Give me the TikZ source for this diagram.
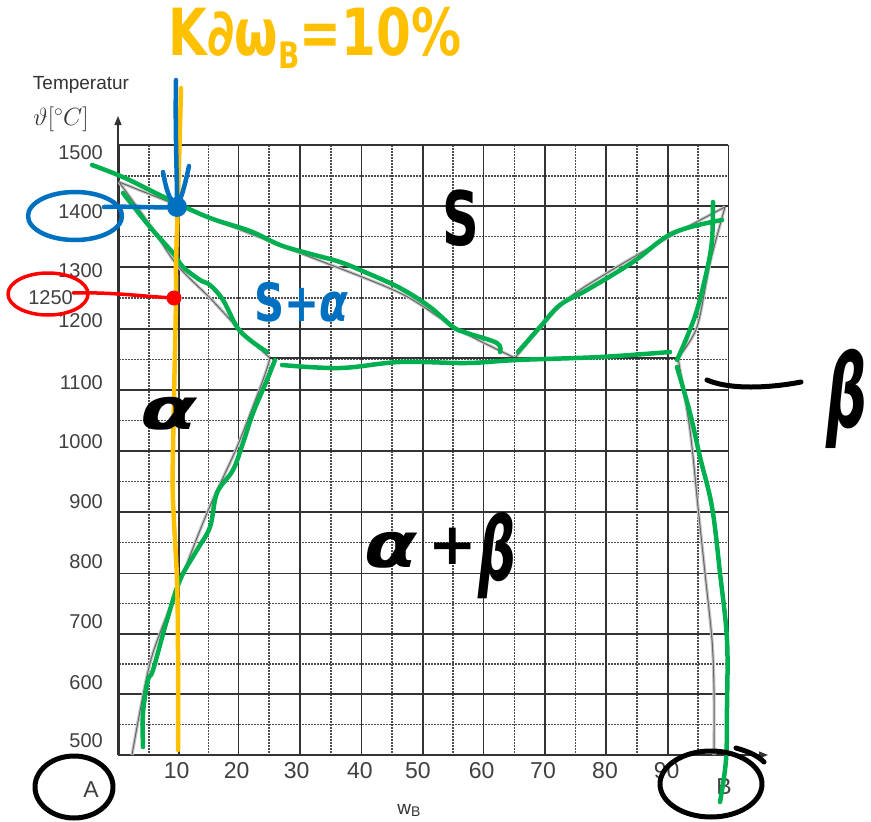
\documentclass[tikz,border=0pt]{standalone}
\usepackage{fontspec}
\setmainfont{Liberation Sans}
\newfontfamily\handfont{DejaVu Sans}
\usepackage{graphicx}
\usetikzlibrary{arrows.meta}
\definecolor{hgreen}{RGB}{0,176,80}
\definecolor{horange}{RGB}{255,192,0}
\definecolor{hblue}{RGB}{0,112,192}
\definecolor{hred}{RGB}{255,0,0}
\begin{document}
\begin{tikzpicture}[x=1pt,y=-1pt,
  solidgrid/.style={draw=black!80, line width=1.6pt},
  dashgrid/.style={draw=black!70, line width=1.3pt, dash pattern=on 1.6pt off 1.4pt},
  halo/.style={draw=black!22, line width=3.2pt, line join=round},
  core/.style={draw=black!60, line width=1pt, line join=round},
  greenpen/.style={draw=hgreen, line width=4.5pt, line cap=round, line join=round},
  orangepen/.style={draw=horange, line width=4.5pt, line cap=round, line join=round},
  bluepen/.style={draw=hblue, line width=4.5pt, line cap=round, line join=round},
  redpen/.style={draw=hred, line width=3.5pt, line cap=round, line join=round},
  blackpen/.style={draw=black, line width=5pt, line cap=round, line join=round},
  ylab/.style={anchor=east, inner sep=0pt, text=black!75, font=\fontsize{20}{20}\selectfont},
  xlab/.style={anchor=center, inner sep=0pt, text=black!75, font=\fontsize{23}{23}\selectfont},
  handtext/.style={inner sep=0pt, anchor=center}
]
\useasboundingbox[fill=white] (0,0) rectangle (871,822);

% grid
\foreach \x in {149,208.5,269,331,392,453,514.5,575.5,637,698}
  \draw[dashgrid] (\x,145) -- (\x,755);
\foreach \y in {176,236.5,298,359.5,420.3,481.2,542.5,603.6,664,724.5}
  \draw[dashgrid] (119,\y) -- (728.3,\y);
\foreach \x in {119,179,238.5,300,361.5,422.7,483.5,545,606,667.7,728.3}
  \draw[solidgrid] (\x,145) -- (\x,755);
\foreach \y in {145,206,266.7,329,390,450.7,511.7,573.3,634,694,755}
  \draw[solidgrid] (119,\y) -- (728.3,\y);

% axes
\coordinate (origin) at (118,755);
\coordinate (ytip) at (118,116);
\coordinate (xtip) at (768,755);
\draw[black!80, line width=1.4pt, -{Triangle[length=9pt,width=7pt]}] (origin) -- (ytip);
\draw[black!80, line width=1.4pt, -{Triangle[length=9pt,width=7pt]}] (origin) -- (xtip);

% original phase diagram curves
\foreach \st in {halo,core}{
  \draw[\st] plot[smooth,tension=0.5] coordinates {(119,182) (210,218) (300,253) (400,293) (457,329) (515,358)};
  \draw[\st] plot[smooth,tension=0.5] coordinates {(119,182) (150,225) (177,265) (210,298) (240,330) (270,358)};
  \draw[\st] plot[smooth,tension=0.5] coordinates {(270,358) (263,380) (237,447) (207,513) (173,600) (150,663) (132,755)};
  \draw[\st] plot[smooth,tension=0.5] coordinates {(515,358) (563,303) (607,273) (667,238) (725,207)};
  \draw[\st] plot[smooth,tension=0.5] coordinates {(725,207) (710,263) (697,327) (678,358)};
  \draw[\st] plot[smooth,tension=0.5] coordinates {(678,358) (690,430) (698,507) (705,573) (712,640) (714,690) (714,755)};
}
\draw[black!80, line width=1.6pt] (270,358) -- (678,358);

% axis labels
\node[anchor=center, inner sep=0pt, text=black!80, font=\fontsize{19}{19}\selectfont] (tlabel) at (81,85) {Temperatur};
\node[anchor=center, inner sep=0pt, text=black!80, font=\fontsize{26}{26}\selectfont] (tunit) at (61,119) {$\vartheta[{}^\circ C]$};
\node[ylab] (y1500) at (103,153) {1500};
\node[ylab] (y1400) at (103,212) {1400};
\node[ylab] (y1300) at (103,271) {1300};
\node[ylab] (y1250) at (73,298) {1250};
\node[ylab] (y1200) at (103,321) {1200};
\node[ylab] (y1100) at (103,383) {1100};
\node[ylab] (y1000) at (103,442) {1000};
\node[ylab] (y900) at (103,502) {900};
\node[ylab] (y800) at (103,562) {800};
\node[ylab] (y700) at (103,622) {700};
\node[ylab] (y600) at (103,683) {600};
\node[ylab] (y500) at (103,741) {500};
\node[xlab] (x10) at (176.7,771) {10};
\node[xlab] (x20) at (236.7,771) {20};
\node[xlab] (x30) at (296.7,771) {30};
\node[xlab] (x40) at (360,771) {40};
\node[xlab] (x50) at (418,771) {50};
\node[xlab] (x60) at (481.7,771) {60};
\node[xlab] (x70) at (543,771) {70};
\node[xlab] (x80) at (605,771) {80};
\node[xlab] (x90) at (666.7,771) {90};
\node[xlab] (labA) at (91,790) {A};
\node[xlab] (labB) at (724,787) {B};
\node[anchor=center, inner sep=0pt, text=black!80, font=\fontsize{19}{19}\selectfont] (wb) at (409,810) {w\raisebox{-2pt}{\fontsize{14}{14}\selectfont B}};

% green tracing
\draw[greenpen] plot[smooth,tension=0.6] coordinates {(92,165) (125,178) (170,200) (210,218) (250,231) (280,245) (307,253) (340,262) (367,273) (400,288) (430,307) (453,327) (467,333) (497,343) (500,352)};
\draw[greenpen] plot[smooth,tension=0.6] coordinates {(123,193) (150,227) (173,253) (183,267) (200,280) (210,285) (223,300) (237,327) (250,340) (267,352)};
\draw[greenpen] plot[smooth,tension=0.6] coordinates {(275,360) (267,380) (253,413) (243,443) (233,470) (217,493) (210,527) (197,550) (180,580) (167,620) (153,670) (148,680) (143,713) (143,747)};
\draw[greenpen] plot[smooth,tension=0.6] coordinates {(282,365) (340,368) (400,362) (467,363) (517,360) (600,357) (670,352)};
\draw[greenpen] plot[smooth,tension=0.6] coordinates {(518,352) (540,327) (560,305) (587,290) (633,262) (673,233) (722,220)};
\draw[greenpen] plot[smooth,tension=0.6] coordinates {(713,202) (712,240) (707,270) (697,310) (687,337) (677,360)};
\draw[greenpen] plot[smooth,tension=0.6] coordinates {(677,367) (690,413) (700,457) (712,507) (720,573) (727,640) (727,707) (726,760) (720,802)};

% orange vertical composition line
\draw[orangepen] plot[smooth,tension=0.6] coordinates {(181,88) (178,200) (176,265) (176,300) (173,450) (173,500) (177,580) (178,650) (178,750)};
\node[handtext, text=horange, font=\handfont\bfseries\fontsize{50}{50}\selectfont] (ktext) at (315,38) {\scalebox{1}[1.3]{K∂ω\raisebox{-10pt}{\fontsize{28}{28}\selectfont B}=10\%}};

% blue annotations
\coordinate (bdot) at (177,207);
\fill[hblue] (bdot) circle[radius=10];
\draw[bluepen] (75,216) ellipse[x radius=47, y radius=24];
\coordinate (bstart) at (104,207);
\draw[bluepen] (bstart) .. controls (130,206) and (150,208) .. (bdot);
\coordinate (btop) at (176,80);
\draw[bluepen] (btop) .. controls (175,130) and (177,170) .. (bdot);
\coordinate (bl1) at (163,172);
\coordinate (br1) at (189,166);
\draw[bluepen] (bl1) .. controls (166,188) and (168,198) .. (bdot);
\draw[bluepen] (br1) .. controls (186,180) and (183,194) .. (bdot);
\node[handtext, text=hblue, font=\handfont\bfseries\fontsize{44}{44}\selectfont] (sa) at (301,302) {\scalebox{0.95}[1.2]{S+\itshape α}};

% red annotations
\draw[redpen] (48,294) ellipse[x radius=40, y radius=21];
\node[fill=hred, circle, inner sep=0pt, minimum size=15pt] (rdot) at (174,298) {};
\coordinate (rstart) at (73,293);
\draw[redpen] (rstart) .. controls (110,292) and (140,296) .. (rdot);

% black handwriting
\node[handtext, text=black, font=\handfont\bfseries\fontsize{60}{60}\selectfont] (sS) at (461,218) {\scalebox{0.85}[1.25]{S}};
\node[handtext, text=black, font=\handfont\bfseries\itshape\fontsize{72}{72}\selectfont] (sal) at (169,414) {\scalebox{1.15}[0.8]{α}};
\node[handtext, text=black, font=\handfont\bfseries\itshape\fontsize{70}{70}\selectfont] (sab1) at (391,550) {\scalebox{1.1}[0.9]{α}};
\node[handtext, text=black, font=\handfont\bfseries\fontsize{58}{58}\selectfont] (sab2) at (453,546) {+};
\node[handtext, text=black, font=\handfont\bfseries\itshape\fontsize{88}{88}\selectfont] (sab3) at (497,556) {\scalebox{0.6}[1]{β}};
\node[handtext, text=black, font=\handfont\bfseries\itshape\fontsize{88}{88}\selectfont] (sb) at (847,399) {\scalebox{0.65}[1.15]{β}};
\coordinate (bpa) at (707,380);
\coordinate (bpb) at (801,382);
\draw[blackpen] (bpa) .. controls (730,390) and (770,388) .. (bpb);
\draw[blackpen] (74,787) ellipse[x radius=39, y radius=31];
\draw[blackpen] (711,784) ellipse[x radius=51, y radius=33];
\coordinate (tailA) at (736,748);
\coordinate (tailB) at (764,762);
\draw[blackpen] (tailA) .. controls (750,752) and (758,756) .. (tailB);
\end{tikzpicture}
\end{document}
